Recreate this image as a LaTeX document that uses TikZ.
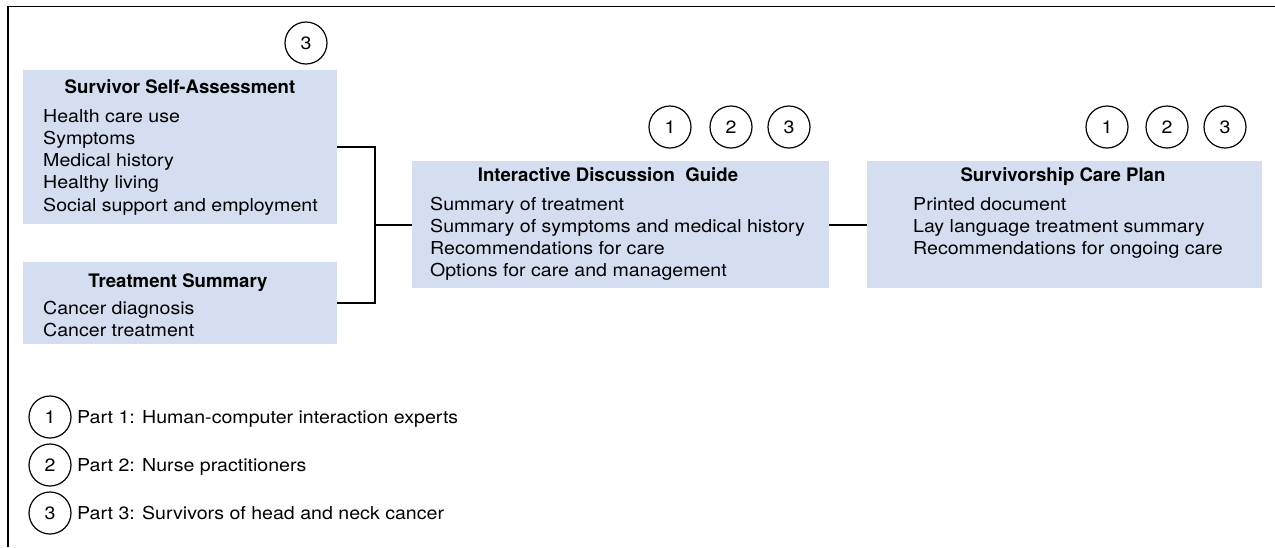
\documentclass[tikz,border=0pt]{standalone}
\usepackage{fontspec}
\setmainfont{TeX Gyre Heros}
\newfontfamily\widefont{TeX Gyre Heros}[FakeStretch=1.1]
\definecolor{boxfill}{RGB}{213,222,241}
\begin{document}
\begin{tikzpicture}[x=1pt,y=-1pt,
  panel/.style={rectangle,fill=boxfill,inner sep=0pt},
  head/.style={anchor=base,inner sep=0pt,font=\fontsize{18.6}{22}\selectfont\bfseries},
  item/.style={anchor=base west,inner sep=0pt,font=\fontsize{17.8}{21}\selectfont\widefont},
  num/.style={circle,draw,line width=1.2pt,minimum size=42pt,inner sep=0pt,font=\fontsize{17.8}{21}\selectfont\widefont},
  wire/.style={line width=2pt}]
\useasboundingbox (0,0) rectangle (1275,547);

% frame: top and left edges
\draw[line width=1.5pt] (8,547) -- (8,6.5) -- (1275,6.5);

% panels
\node[panel,minimum width=314pt,minimum height=154pt] (ssa) at (180,147) {};
\node[panel,minimum width=314pt,minimum height=82pt]  (ts)  at (180,303) {};
\node[panel,minimum width=417pt,minimum height=127pt] (idg) at (620.5,224.5) {};
\node[panel,minimum width=395pt,minimum height=127pt] (scp) at (1064.5,224.5) {};

% Survivor Self-Assessment
\node[head] (ssah) at (180,93) {Survivor Self-Assessment};
\foreach \t [count=\i] in {Health care use,Symptoms,Medical history,Healthy living,Social support and employment}
  \node[item] (ssa\i) at (43,{99.7+22.3*\i}) {\t};

% Treatment Summary
\node[head] (tsh) at (178,287) {Treatment Summary};
\foreach \t [count=\i] in {Cancer diagnosis,Cancer treatment}
  \node[item] (ts\i) at (43,{292+22*\i}) {\t};

% Interactive Discussion Guide
\node[head] (idgh) at (608,181) {Interactive Discussion\ \ Guide};
\foreach \t [count=\i] in {Summary of treatment,Summary of symptoms and medical history,Recommendations for care,Options for care and management}
  \node[item] (idg\i) at (430,{188+22.2*\i}) {\t};

% Survivorship Care Plan
\node[head] (scph) at (1063,181) {Survivorship Care Plan};
\foreach \t [count=\i] in {Printed document,Lay language treatment summary,Recommendations for ongoing care}
  \node[item] (scp\i) at (913,{188+22.2*\i}) {\t};

% participant markers
\node[num] (m0) at (306,43) {3};
\node[num] (m1) at (670,127) {1};
\node[num] (m2) at (731,127) {2};
\node[num] (m3) at (789,127) {3};
\node[num] (m4) at (1107,127) {1};
\node[num] (m5) at (1167,127) {2};
\node[num] (m6) at (1225,127) {3};

% connectors
\coordinate (j) at (375,224.5);
\draw[wire] (ssa.east) -| (j) |- (ts.east);
\draw[wire] (j) -- (idg.west);
\draw[wire] (idg.east) -- (scp.west);

% legend
\node[num] (l1) at (50,417) {1};
\node[num] (l2) at (50,465) {2};
\node[num] (l3) at (50,513) {3};
\node[item] (lt1) at (77,423) {Part 1: Human-computer interaction experts};
\node[item] (lt2) at (77,471) {Part 2: Nurse practitioners};
\node[item] (lt3) at (77,519) {Part 3: Survivors of head and neck cancer};
\end{tikzpicture}
\end{document}
